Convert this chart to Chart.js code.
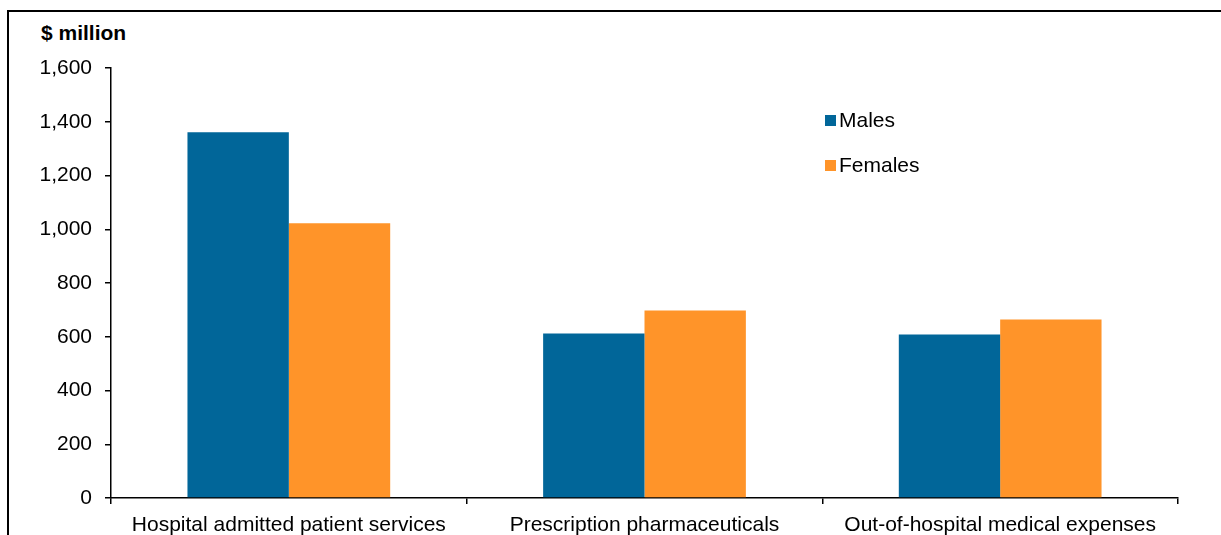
<!DOCTYPE html>
<html>
<head>
<meta charset="utf-8">
<script src="https://cdn.jsdelivr.net/npm/chart.js@4"></script>
<style>
  html, body { margin: 0; padding: 0; background: #fff; }
  #wrap { position: relative; width: 1221px; height: 535px; overflow: hidden; }
  #frame { position: absolute; left: 7px; top: 10px; right: -4px; bottom: -4px;
           border-top: 2px solid #000; border-left: 2px solid #000; }
  #title { position: absolute; left: 41px; top: 21px; font: bold 21px "Liberation Sans", Arial, sans-serif; color: #000; }
  canvas { position: absolute; left: 0; top: 0; }
</style>
</head>
<body>
<div id="wrap">
  <div id="frame"></div>
  <div id="title">$ million</div>
  <canvas id="grafico" width="1221" height="535"></canvas>
</div>
<script>
// Categorías y valores ($ million)
const categorias = ['Hospital admitted patient services', 'Prescription pharmaceuticals', 'Out-of-hospital medical expenses'];
const hombres = [1361, 612, 608];
const mujeres = [1022, 698, 664];
const ticksY = [0, 200, 400, 600, 800, 1000, 1200, 1400, 1600];

const fuente = '"Liberation Sans", Arial, sans-serif';

// Leyenda dibujada a mano dentro del área del gráfico
const leyenda = {
  id: 'leyenda',
  afterDraw(chart) {
    const ctx = chart.ctx;
    ctx.save();
    ctx.font = '21px ' + fuente;
    ctx.textBaseline = 'middle';
    chart.data.datasets.forEach((ds, i) => {
      const y = 120 + i * 45;
      ctx.fillStyle = ds.backgroundColor;
      ctx.fillRect(825, y - 5, 11, 11);
      ctx.fillStyle = '#000';
      ctx.fillText(ds.label, 839, y + 1);
    });
    ctx.restore();
  }
};

new Chart(document.getElementById('grafico').getContext('2d'), {
  type: 'bar',
  data: {
    labels: categorias,
    datasets: [
      { label: 'Males', data: hombres, backgroundColor: '#016699' },
      { label: 'Females', data: mujeres, backgroundColor: '#FF9429' }
    ]
  },
  options: {
    responsive: false,
    animation: false,
    layout: { padding: { left: 0, right: 43, top: 68, bottom: 0 } },
    plugins: { legend: { display: false }, tooltip: { enabled: false } },
    datasets: { bar: { categoryPercentage: 0.57, barPercentage: 1.0 } },
    scales: {
      x: {
        grid: { offset: true, drawOnChartArea: false, drawTicks: true, tickLength: 6, color: '#000', lineWidth: 1.5 },
        border: { color: '#000', width: 1.5 },
        ticks: { color: '#000', font: { family: fuente, size: 21 }, padding: 9, maxRotation: 0 },
        afterFit(axis) { axis.height = 37; }
      },
      y: {
        min: 0, max: 1600,
        afterBuildTicks(axis) { axis.ticks = ticksY.map(v => ({ value: v })); },
        grid: { drawOnChartArea: false, tickLength: 6, color: '#000', lineWidth: 1.5 },
        border: { color: '#000', width: 1.5 },
        ticks: {
          color: '#000', font: { family: fuente, size: 21 }, padding: 13,
          callback: v => v.toLocaleString('en-US')
        },
        afterFit(axis) { axis.width = 111; }
      }
    }
  },
  plugins: [leyenda]
});
</script>
</body>
</html>
